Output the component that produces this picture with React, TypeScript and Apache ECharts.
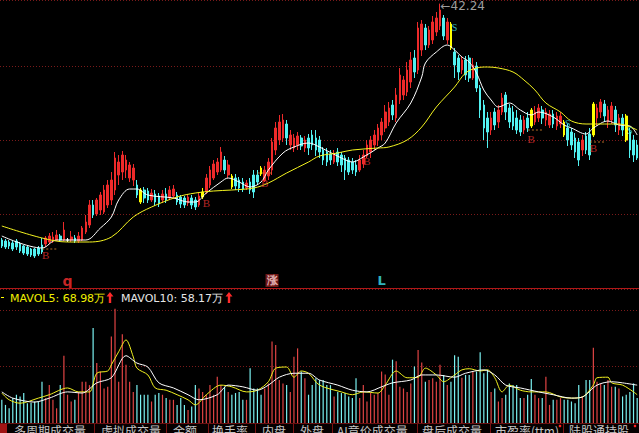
import React, { useEffect, useRef } from "react";
import * as echarts from "echarts";

// [open, close, low, high]
const OHLC: number[][] = [
  [18.6, 18.0, 17.8, 18.8], [18.5, 17.9, 17.7, 18.7], [18.4, 18.0, 17.7, 18.6], [18.3, 17.7, 17.5, 18.5],
  [18.5, 17.9, 17.6, 18.7], [18.2, 17.5, 17.3, 18.4], [18.0, 17.3, 17.1, 18.1], [17.9, 17.2, 17.0, 18.0],
  [17.7, 17.1, 16.9, 17.8], [17.7, 17.0, 16.8, 17.8], [17.8, 17.2, 17.0, 18.0], [18.1, 17.4, 17.2, 18.8],
  [18.2, 18.8, 17.9, 19.0], [18.4, 19.0, 18.2, 19.3], [18.5, 18.9, 18.3, 19.4], [18.6, 19.1, 18.5, 19.6],
  [19.0, 18.6, 18.4, 19.2], [18.6, 19.6, 18.5, 20.4], [18.6, 18.6, 18.4, 18.8], [18.6, 18.9, 18.4, 19.5],
  [18.8, 18.5, 18.3, 19.1], [18.5, 19.0, 18.3, 19.4], [18.6, 19.8, 18.5, 20.0], [19.4, 20.4, 19.2, 21.1],
  [20.1, 22.1, 19.8, 22.6], [22.1, 21.1, 20.8, 22.6], [21.2, 22.6, 21.0, 22.8], [21.6, 23.1, 21.1, 23.4],
  [21.4, 23.6, 21.2, 24.1], [22.1, 24.1, 21.8, 24.6], [22.6, 24.6, 22.1, 25.4], [23.6, 26.8, 23.1, 27.4],
  [25.1, 26.4, 24.1, 27.1], [25.4, 27.1, 24.6, 27.5], [25.6, 26.6, 24.8, 27.1], [24.8, 26.1, 24.4, 26.4],
  [24.6, 25.8, 24.0, 26.2], [24.1, 23.1, 22.8, 24.6], [23.6, 22.4, 22.2, 23.8], [23.6, 22.8, 22.3, 23.9],
  [23.5, 22.6, 22.3, 23.8], [22.6, 23.3, 22.4, 23.7], [23.2, 22.4, 22.0, 23.6], [23.0, 22.2, 21.9, 23.3],
  [22.6, 23.2, 22.3, 23.6], [23.2, 22.6, 22.3, 23.8], [22.8, 23.6, 22.6, 24.0], [23.0, 23.7, 22.7, 24.1],
  [23.1, 22.4, 22.1, 23.4], [22.9, 22.2, 21.8, 23.1], [22.8, 22.1, 21.8, 23.0], [22.3, 22.9, 22.0, 23.2],
  [22.8, 22.1, 21.7, 23.1], [22.6, 21.9, 21.6, 22.9], [22.1, 23.0, 21.9, 23.4], [22.9, 23.4, 22.7, 23.8],
  [23.4, 24.8, 23.2, 25.2], [24.1, 25.6, 23.8, 26.0], [24.8, 26.2, 24.6, 26.6], [25.4, 26.4, 25.1, 26.8],
  [25.6, 27.4, 25.4, 27.9], [26.6, 25.6, 25.2, 27.0], [25.1, 26.1, 24.8, 26.6], [25.0, 23.9, 23.7, 25.2],
  [24.8, 24.0, 23.6, 25.2], [24.6, 23.8, 23.4, 24.9], [24.4, 23.7, 23.4, 24.8], [23.8, 24.3, 23.6, 24.6],
  [24.4, 23.6, 23.2, 24.8], [25.1, 23.4, 22.8, 25.6], [25.1, 24.4, 24.1, 25.6], [25.8, 25.2, 25.0, 26.0],
  [24.5, 25.6, 24.4, 26.0], [25.0, 26.4, 24.6, 26.8], [25.6, 28.4, 25.1, 28.8], [27.6, 29.8, 27.1, 30.4],
  [28.6, 30.4, 28.1, 31.1], [28.8, 30.6, 28.4, 31.2], [30.2, 28.8, 28.1, 30.6], [28.1, 29.1, 27.6, 29.6],
  [27.8, 28.8, 27.4, 29.2], [28.1, 29.0, 27.6, 29.4], [28.8, 28.0, 27.6, 29.1], [27.8, 28.6, 27.4, 29.0],
  [28.8, 27.8, 27.1, 29.2], [29.1, 28.1, 27.6, 29.6], [28.8, 27.6, 27.0, 29.6], [28.6, 27.4, 26.8, 29.0],
  [27.6, 26.6, 26.1, 27.9], [27.4, 26.4, 26.0, 27.8], [27.2, 26.6, 26.1, 27.6], [26.4, 27.1, 26.2, 27.6],
  [27.4, 26.4, 26.0, 27.8], [27.1, 26.1, 25.4, 27.4], [26.8, 25.6, 24.6, 27.1], [26.6, 25.4, 25.1, 26.9],
  [26.4, 25.6, 25.2, 26.8], [26.1, 25.4, 25.0, 26.6], [25.6, 26.6, 25.4, 27.1], [26.2, 27.1, 25.8, 27.6],
  [27.0, 28.1, 26.8, 28.6], [27.4, 28.6, 26.8, 29.0], [28.1, 29.1, 27.6, 29.6], [28.6, 29.8, 28.0, 30.2],
  [29.1, 30.4, 28.6, 30.8], [29.8, 31.4, 29.4, 32.1], [30.4, 31.8, 30.0, 32.4], [32.1, 31.1, 30.6, 32.6],
  [30.8, 33.1, 30.4, 33.8], [32.6, 35.1, 32.2, 35.8], [33.1, 34.6, 32.6, 35.0], [33.4, 35.6, 33.0, 36.4],
  [34.4, 36.6, 33.8, 37.4], [36.8, 35.4, 34.8, 37.6], [35.6, 39.8, 35.2, 40.4], [37.6, 40.2, 37.0, 40.6],
  [39.8, 38.1, 37.6, 40.2], [38.1, 39.6, 37.8, 40.0], [38.6, 40.4, 38.2, 41.0], [39.4, 40.8, 39.0, 41.4],
  [40.0, 41.6, 39.6, 42.24], [40.8, 39.0, 38.6, 41.1], [38.6, 40.4, 38.2, 40.8], [40.2, 37.8, 37.6, 40.4],
  [37.4, 36.1, 34.8, 37.8], [36.8, 35.4, 34.6, 37.1], [35.6, 36.6, 35.2, 37.0], [36.6, 35.1, 34.6, 37.0],
  [36.8, 34.8, 34.4, 37.1], [34.8, 36.1, 34.6, 36.8], [36.0, 33.8, 33.4, 36.4], [33.8, 31.6, 30.8, 34.1],
  [32.1, 29.8, 28.6, 32.6], [30.8, 29.4, 27.8, 31.4], [29.6, 30.8, 29.1, 31.4], [31.4, 30.1, 29.6, 31.8],
  [30.4, 31.6, 29.8, 32.1], [31.4, 32.8, 31.1, 33.3], [33.1, 31.4, 30.6, 33.4], [31.8, 30.4, 29.8, 32.2],
  [31.4, 30.0, 29.6, 32.0], [30.8, 29.6, 29.2, 31.6], [30.6, 29.4, 29.0, 31.1], [29.6, 30.6, 29.2, 31.0],
  [30.8, 29.8, 29.4, 31.4], [31.6, 30.0, 29.8, 31.8], [30.4, 31.4, 30.1, 32.0], [30.8, 31.8, 30.4, 32.2],
  [31.6, 30.8, 30.2, 32.0], [30.6, 31.4, 30.0, 31.8], [30.1, 31.2, 29.8, 31.6], [31.2, 30.2, 29.8, 31.6],
  [30.0, 31.0, 29.6, 31.4], [30.2, 31.0, 29.8, 31.4], [30.4, 29.1, 28.9, 30.6], [29.8, 28.6, 28.0, 30.2],
  [29.4, 28.1, 27.6, 29.8], [28.8, 27.4, 26.8, 29.3], [28.4, 26.6, 26.0, 28.8], [27.6, 28.6, 27.0, 29.1],
  [29.0, 27.6, 27.2, 29.4], [29.2, 27.1, 26.6, 29.8], [29.1, 32.2, 28.9, 32.4], [30.8, 31.8, 30.0, 32.2],
  [31.4, 32.4, 30.8, 32.7], [32.2, 31.0, 30.4, 32.6], [30.4, 31.6, 29.8, 32.0], [30.6, 32.0, 30.2, 32.4],
  [31.6, 30.1, 29.4, 32.0], [29.6, 30.8, 29.1, 31.2], [30.8, 29.6, 29.0, 31.2], [31.0, 28.6, 28.4, 31.2],
  [29.4, 27.6, 26.8, 29.8], [28.6, 27.1, 26.4, 29.1], [28.1, 26.8, 26.6, 28.6],
];

// volume, 万
const VOLUME: number[] = [
  41, 32, 26, 44, 50, 47, 53, 35, 36, 38, 38, 73, 44, 67, 41, 26, 67, 119, 50, 38,
  41, 55, 73, 73, 67, 168, 106, 91, 61, 64, 153, 202, 73, 157, 103, 73, 55, 67, 50, 50,
  50, 38, 50, 53, 50, 44, 41, 41, 32, 44, 32, 23, 29, 67, 61, 55, 50, 67, 50, 82,
  67, 64, 55, 50, 53, 55, 41, 41, 97, 61, 61, 50, 61, 70, 144, 138, 76, 70, 67, 55,
  117, 132, 91, 79, 50, 67, 79, 76, 76, 67, 67, 47, 55, 53, 53, 47, 44, 79, 44, 67,
  38, 53, 50, 53, 91, 86, 50, 112, 109, 64, 61, 55, 70, 100, 129, 107, 73, 76, 79, 73,
  103, 85, 67, 73, 120, 117, 80, 85, 85, 90, 91, 125, 88, 94, 55, 61, 38, 44, 50, 70,
  67, 67, 44, 44, 50, 78, 50, 44, 44, 82, 32, 41, 41, 44, 41, 41, 38, 35, 67, 47,
  76, 76, 133, 73, 70, 67, 76, 64, 64, 61, 47, 50, 55, 70, 44,
];

const YELLOW_CANDLES = [38, 55, 63, 71, 123, 145, 154, 162, 171];
const WHITE_CANDLES = [18];

// moving averages read at sample candles: [candle index, value]
const MA_SHORT: number[][] = [
  [0, 19.0], [11, 17.8], [15, 18.6], [23, 18.6], [27, 19.8], [30, 20.9], [32, 22.6], [35, 23.7],
  [37, 23.7], [40, 23.1], [47, 22.8], [51, 22.4], [53, 22.4], [56, 23.3], [60, 24.4], [62, 24.8],
  [65, 24.4], [68, 23.9], [71, 24.4], [73, 25.6], [77, 27.3], [80, 27.9], [84, 28.3], [87, 27.9],
  [93, 26.8], [96, 26.4], [99, 26.9], [103, 27.8], [105, 28.3], [108, 30.3], [112, 32.3], [115, 34.9],
  [116, 36.3], [119, 37.4], [122, 38.1], [124, 37.6], [126, 36.9], [128, 36.4], [130, 35.3], [132, 33.6],
  [134, 32.6], [136, 31.9], [139, 32.3], [142, 31.6], [145, 31.1], [147, 31.4], [151, 30.9], [154, 30.1],
  [156, 29.8], [160, 29.2], [162, 29.8], [166, 30.5], [169, 30.1], [172, 30.0], [174, 29.1],
];
const MA_LONG: number[][] = [
  [0, 20.0], [11, 18.8], [18, 18.4], [24, 18.4], [30, 18.9], [36, 20.9], [41, 21.9], [48, 22.9],
  [53, 23.3], [58, 23.5], [63, 23.6], [69, 23.8], [73, 24.3], [78, 25.3], [84, 26.4], [87, 27.0],
  [92, 27.3], [96, 27.6], [103, 27.8], [106, 27.9], [111, 28.6], [115, 29.9], [119, 31.9], [124, 33.9],
  [127, 35.3], [130, 35.8], [133, 35.9], [136, 35.8], [140, 35.4], [143, 34.6], [146, 33.6], [149, 32.3],
  [153, 31.4], [156, 30.5], [160, 30.2], [165, 30.2], [169, 30.2], [174, 29.6],
];
const MAVOL5: number[][] = [
  [0, 53], [2, 41], [5, 35], [10, 44], [13, 50], [18, 62], [21, 55], [24, 55], [26, 88], [29, 92],
  [30, 103], [32, 126], [34, 147], [36, 117], [37, 97], [40, 85], [42, 62], [45, 58], [48, 50], [51, 41],
  [53, 32], [56, 50], [60, 67], [63, 64], [67, 55], [70, 58], [73, 73], [75, 97], [78, 99], [80, 81],
  [82, 92], [84, 88], [87, 67], [93, 55], [96, 50], [99, 55], [103, 53], [105, 67], [108, 92], [111, 80],
  [114, 81], [116, 97], [119, 85], [121, 73], [124, 85], [126, 94], [128, 96], [131, 92], [133, 94], [135, 80],
  [137, 55], [139, 67], [142, 58], [145, 55], [149, 55], [153, 46], [156, 44], [159, 46], [162, 67], [163, 80],
  [166, 81], [167, 71], [170, 67], [173, 55], [174, 50],
];
const MAVOL10: number[][] = [
  [0, 55], [3, 44], [9, 37], [13, 44], [18, 55], [22, 53], [26, 71], [30, 80], [34, 119], [37, 106],
  [40, 99], [43, 71], [47, 62], [51, 50], [54, 41], [59, 50], [62, 67], [66, 64], [70, 58], [73, 67],
  [76, 81], [80, 88], [84, 88], [87, 76], [92, 67], [96, 58], [100, 55], [104, 64], [107, 71], [112, 76],
  [115, 85], [119, 85], [124, 81], [127, 88], [132, 94], [135, 85], [138, 67], [142, 62], [147, 55], [151, 50],
  [156, 44], [159, 46], [163, 67], [167, 73], [170, 71], [174, 67],
];

const B_MARKS: number[][] = [[12, 17.1], [56, 22.3], [72, 24.3], [100, 26.5], [145, 28.7], [162, 27.8]];
const S_MARKS: number[][] = [[124, 39.9], [155, 30.3], [172, 29.6]];
const DASH_MARKS: number[][] = [[13, 17.7], [72, 25.3], [146, 29.6], [163, 28.4]];
const PEAK: number[] = [120, 42.24];
const BOTTOM_TAGS = [
  { i: 18, text: "q", color: "#ff3030", bg: "transparent", size: 14 },
  { i: 74, text: "涨", color: "#ffd8d8", bg: "#8a1e1e", size: 11 },
  { i: 104, text: "L", color: "#3fe6f2", bg: "transparent", size: 13 },
];
const LEGEND = { mavol5: "MAVOL5: 68.98万", mavol10: "MAVOL10: 58.17万" };
const TABS = ["多周期成交量", "虚拟成交量", "金额", "换手率", "内盘", "外盘", "AI竞价成交量", "盘后成交量", "市盈率(ttm)", "陆股通持股"];

const RED = "#ee2a2a";
const CYAN = "#52f2f2";
const YELLOW = "#ffff00";
const VOL_RED = "#e04444";
const VOL_CYAN = "#7af0f0";
const GRID_RED = "#7a1a1a";

export default function App() {
  const ref = useRef<HTMLDivElement>(null);
  useEffect(() => {
    document.body.style.margin = "0";
    document.body.style.background = "#000";
    const chart = echarts.init(ref.current!, null, { renderer: "svg" });
    const cats = OHLC.map((_, i) => String(i));

    const candleData = OHLC.map((d, i) => {
      if (YELLOW_CANDLES.includes(i))
        return { value: d, itemStyle: { color: YELLOW, color0: YELLOW, borderColor: YELLOW, borderColor0: YELLOW } };
      if (WHITE_CANDLES.includes(i))
        return { value: d, itemStyle: { color: "#ffffff", color0: "#ffffff", borderColor: "#ffffff", borderColor0: "#ffffff", borderColorDoji: "#ffffff" } };
      return { value: d };
    });
    const volData = VOLUME.map((v, i) => ({
      value: v,
      itemStyle: { color: OHLC[i][1] >= OHLC[i][0] ? VOL_RED : VOL_CYAN },
    }));

    const gridLine = { show: true, lineStyle: { color: GRID_RED, type: [1, 2] as any, width: 1 } };
    const dash = "path://M0,0H2V1H0ZM4,0H6V1H4ZM8,0H10V1H8ZM12,0H14V1H12Z";

    const tabX = [14, 101, 173, 212, 262, 300, 337, 422, 495, 569];
    const sepX = [94, 166, 208, 255, 293, 332, 417, 490, 563];

    const graphic: any[] = [
      { type: "line", shape: { x1: 0, y1: 288.5, x2: 639, y2: 288.5 }, style: { stroke: "#b01818", lineWidth: 1 }, z: 10 },
      { type: "rect", shape: { x: 0, y: 424, width: 639, height: 9 }, style: { fill: "#050000" }, z: 10 },
      { type: "line", shape: { x1: 0, y1: 423.5, x2: 639, y2: 423.5 }, style: { stroke: "#6a1010", lineWidth: 1 }, z: 11 },
      { type: "rect", shape: { x: 0, y: 424, width: 7, height: 9 }, style: { fill: "#a01414" }, z: 11 },
      ...sepX.map((x) => ({ type: "line", shape: { x1: x + 0.5, y1: 424, x2: x + 0.5, y2: 433 }, style: { stroke: "#7a1212", lineWidth: 1 }, z: 11 })),
      ...TABS.map((t, k) => ({
        type: "text", x: tabX[k], y: 424, z: 12,
        style: { text: t, fill: "#c4c4c4", fontSize: 12, fontFamily: "Noto Sans CJK SC", verticalAlign: "top" },
      })),
      { type: "circle", shape: { cx: 560, cy: 426, r: 1.3 }, style: { fill: "#ff2020" }, z: 12 },
      { type: "circle", shape: { cx: 635, cy: 426, r: 1.3 }, style: { fill: "#ff2020" }, z: 12 },
      { type: "rect", shape: { x: 1, y: 297, width: 3, height: 1 }, style: { fill: YELLOW }, z: 12 },
      { type: "text", x: 10, y: 298, z: 12, style: { text: LEGEND.mavol5, fill: "#f0f000", fontSize: 11, fontFamily: "DejaVu Sans", verticalAlign: "middle" } },
      { type: "polygon", shape: { points: [[110, 292], [113.5, 296.5], [111.2, 296.5], [111.2, 303], [108.8, 303], [108.8, 296.5], [106.5, 296.5]] }, style: { fill: "#ff2a2a" }, z: 12 },
      { type: "text", x: 121, y: 298, z: 12, style: { text: LEGEND.mavol10, fill: "#e6e6e6", fontSize: 11, fontFamily: "DejaVu Sans", verticalAlign: "middle" } },
      { type: "polygon", shape: { points: [[229, 292], [232.5, 296.5], [230.2, 296.5], [230.2, 303], [227.8, 303], [227.8, 296.5], [225.5, 296.5]] }, style: { fill: "#ff2a2a" }, z: 12 },
    ];

    const option: any = {
      animation: false,
      backgroundColor: "#000",
      grid: [
        { left: 0, right: 0, top: 0, height: 288 },
        { left: 0, right: 0, top: 289, height: 134 },
      ],
      xAxis: [
        { type: "category", data: cats, gridIndex: 0, boundaryGap: true, show: false },
        { type: "category", data: cats, gridIndex: 1, boundaryGap: true, show: false },
      ],
      yAxis: [
        { type: "value", gridIndex: 0, min: 13.8, max: 42.6, show: false },
        { type: "value", gridIndex: 0, min: 0, max: 3.892, interval: 1, axisLabel: { show: false }, axisLine: { show: false }, axisTick: { show: false }, splitLine: gridLine },
        { type: "value", gridIndex: 1, min: 0, max: 237, interval: 100, axisLabel: { show: false }, axisLine: { show: false }, axisTick: { show: false }, splitLine: gridLine },
      ],
      series: [
        {
          type: "candlestick", xAxisIndex: 0, yAxisIndex: 0, barWidth: 2.1, data: candleData,
          itemStyle: { color: RED, color0: CYAN, borderColor: RED, borderColor0: CYAN, borderColorDoji: "#ffffff", borderWidth: 1 },
          z: 3,
        },
        { type: "line", xAxisIndex: 0, yAxisIndex: 0, data: MA_SHORT, smooth: 0.35, showSymbol: false, symbol: "none", lineStyle: { color: "#ffffff", width: 1 }, z: 4 },
        { type: "line", xAxisIndex: 0, yAxisIndex: 0, data: MA_LONG, smooth: 0.35, showSymbol: false, symbol: "none", lineStyle: { color: "#f4f420", width: 1 }, z: 4 },
        {
          type: "scatter", xAxisIndex: 0, yAxisIndex: 0, data: B_MARKS, symbolSize: 1, itemStyle: { color: "transparent" },
          label: { show: true, position: "inside", formatter: "B", color: "#e03030", fontSize: 11, fontFamily: "Liberation Serif" }, z: 6,
        },
        {
          type: "scatter", xAxisIndex: 0, yAxisIndex: 0, data: S_MARKS, symbolSize: 1, itemStyle: { color: "transparent" },
          label: { show: true, position: "inside", formatter: "S", color: "#40e0f0", fontSize: 10, fontFamily: "Liberation Serif" }, z: 6,
        },
        {
          type: "scatter", xAxisIndex: 0, yAxisIndex: 0, data: DASH_MARKS, symbol: dash, symbolSize: [14, 1], itemStyle: { color: "#e08a30" }, z: 6,
        },
        {
          type: "scatter", xAxisIndex: 0, yAxisIndex: 0, data: [PEAK], symbolSize: 1, itemStyle: { color: "transparent" },
          label: { show: true, position: "right", distance: 0, offset: [0, 2.5], formatter: (p: any) => "←" + p.value[1].toFixed(2), color: "#c8c8c8", fontSize: 12, fontFamily: "DejaVu Sans" }, z: 6,
        },
        {
          type: "scatter", xAxisIndex: 0, yAxisIndex: 0, symbolSize: 1, itemStyle: { color: "transparent" }, z: 6,
          data: BOTTOM_TAGS.map((t) => ({
            value: [t.i, 14.55],
            label: { show: true, position: "inside", formatter: t.text, color: t.color, backgroundColor: t.bg, fontSize: t.size, fontWeight: "bold", fontFamily: "DejaVu Sans", padding: [1, 1] },
          })),
        },
        { type: "bar", xAxisIndex: 1, yAxisIndex: 2, data: volData, barWidth: 1.2, z: 3 },
        { type: "line", xAxisIndex: 1, yAxisIndex: 2, data: MAVOL5, smooth: 0.3, showSymbol: false, symbol: "none", lineStyle: { color: "#f0f020", width: 1 }, z: 4 },
        { type: "line", xAxisIndex: 1, yAxisIndex: 2, data: MAVOL10, smooth: 0.3, showSymbol: false, symbol: "none", lineStyle: { color: "#ffffff", width: 1 }, z: 4 },
      ],
      graphic,
    };
    chart.setOption(option);
    return () => chart.dispose();
  }, []);
  return <div ref={ref} style={{ width: 639, height: 433, background: "#000" }} />;
}
